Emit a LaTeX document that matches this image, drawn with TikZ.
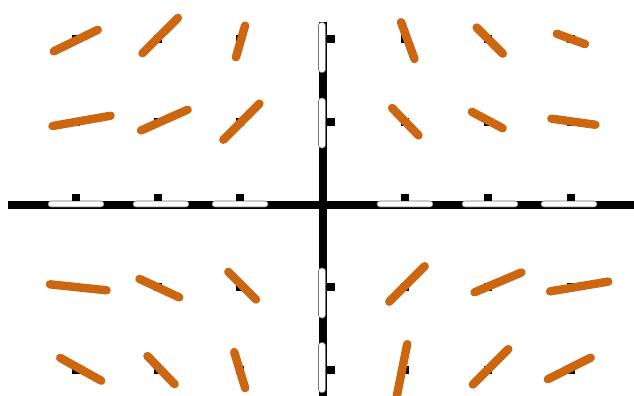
\documentclass[tikz,border=0pt]{standalone}
\usepackage{xcolor}
\usepackage{tikz}
\definecolor{slopeorange}{RGB}{204,102,17}

\begin{document}
\begin{tikzpicture}[x=2cm,y=2cm,line join=round,
    axisline/.style={line width=5.5pt,line cap=butt},
    tickmark/.style={fill=black},
    labelpill/.style={fill=white,draw=black!55,line width=0.4pt,rounded corners=2pt},
    slope/.style={slopeorange,line width=5.8pt,line cap=round}]
  \useasboundingbox (-3.895,-2.301) rectangle (3.762,2.470);
  \clip (-3.895,-2.301) rectangle (3.762,2.470);
  \coordinate (O) at (0.000,0.000);
  \coordinate (XL) at (-3.800,0.000);
  \coordinate (XR) at (3.900,0.000);
  \coordinate (YT) at (0.000,2.204);
  \coordinate (YB) at (0.000,-2.400);
  % axes
  \draw[axisline] (XL) -- (XR);
  \draw[axisline] (YT) -- (YB);
  % label pills on the axes
  \draw[labelpill] (-3.315,-0.030) rectangle (-2.639,0.042);
  \draw[labelpill] (-2.289,-0.030) rectangle (-1.613,0.042);
  \draw[labelpill] (-1.334,-0.030) rectangle (-0.658,0.042);
  \draw[labelpill] (0.658,-0.030) rectangle (1.334,0.042);
  \draw[labelpill] (1.685,-0.030) rectangle (2.361,0.042);
  \draw[labelpill] (2.639,-0.030) rectangle (3.315,0.042);
  \draw[labelpill] (-0.048,1.594) rectangle (0.036,2.198);
  \draw[labelpill] (-0.048,0.682) rectangle (0.036,1.286);
  \draw[labelpill] (-0.048,-1.371) rectangle (0.036,-0.767);
  \draw[labelpill] (-0.048,-2.271) rectangle (0.036,-1.667);
  % tick marks
  \fill[tickmark] (-3.028,0.048) rectangle (-2.932,0.133);
  \fill[tickmark] (-2.038,0.048) rectangle (-1.942,0.133);
  \fill[tickmark] (-1.048,0.048) rectangle (-0.952,0.133);
  \fill[tickmark] (0.952,0.048) rectangle (1.048,0.133);
  \fill[tickmark] (1.952,0.048) rectangle (2.048,0.133);
  \fill[tickmark] (2.952,0.048) rectangle (3.048,0.133);
  \fill[tickmark] (0.042,1.950) rectangle (0.155,2.050);
  \fill[tickmark] (0.042,0.946) rectangle (0.155,1.046);
  \fill[tickmark] (0.042,-1.046) rectangle (0.155,-0.946);
  \fill[tickmark] (0.042,-2.050) rectangle (0.155,-1.950);
  % grid point marks
  \foreach \x in {-2.98,-1.99,-1.00,1.00,2.00,3.00}
    \foreach \y in {2.00,1.00,-1.00,-2.00}
      \fill[tickmark] (\x-0.048,\y-0.048) rectangle (\x+0.048,\y+0.048);
  % slope segments, upper half
  \draw[slope] (-3.246,1.850) -- (-2.714,2.110);
  \draw[slope] (-2.174,1.827) -- (-1.746,2.254);
  \draw[slope] (-1.045,1.779) -- (-0.935,2.161);
  \draw[slope] (-3.261,0.948) -- (-2.559,1.072);
  \draw[slope] (-2.191,0.895) -- (-1.629,1.145);
  \draw[slope] (-1.198,0.782) -- (-0.762,1.218);
  \draw[slope] (0.949,2.202) -- (1.111,1.758);
  \draw[slope] (1.862,2.138) -- (2.178,1.822);
  \draw[slope] (2.830,2.062) -- (3.170,1.938);
  \draw[slope] (0.841,1.165) -- (1.159,0.835);
  \draw[slope] (1.804,1.119) -- (2.176,0.921);
  \draw[slope] (2.764,1.037) -- (3.296,0.963);
  % slope segments, lower half
  \draw[slope] (-3.292,-0.964) -- (-2.608,-1.036);
  \draw[slope] (-2.211,-0.898) -- (-1.729,-1.122);
  \draw[slope] (-1.137,-0.813) -- (-0.803,-1.147);
  \draw[slope] (-3.168,-1.852) -- (-2.672,-2.128);
  \draw[slope] (-2.114,-1.830) -- (-1.786,-2.170);
  \draw[slope] (-1.066,-1.783) -- (-0.934,-2.217);
  \draw[slope] (0.806,-1.174) -- (1.234,-0.746);
  \draw[slope] (1.836,-1.060) -- (2.404,-0.820);
  \draw[slope] (2.749,-1.049) -- (3.451,-0.931);
  \draw[slope] (0.897,-2.314) -- (1.023,-1.686);
  \draw[slope] (1.816,-2.174) -- (2.244,-1.746);
  \draw[slope] (2.721,-2.110) -- (3.239,-1.850);
\end{tikzpicture}
\end{document}
